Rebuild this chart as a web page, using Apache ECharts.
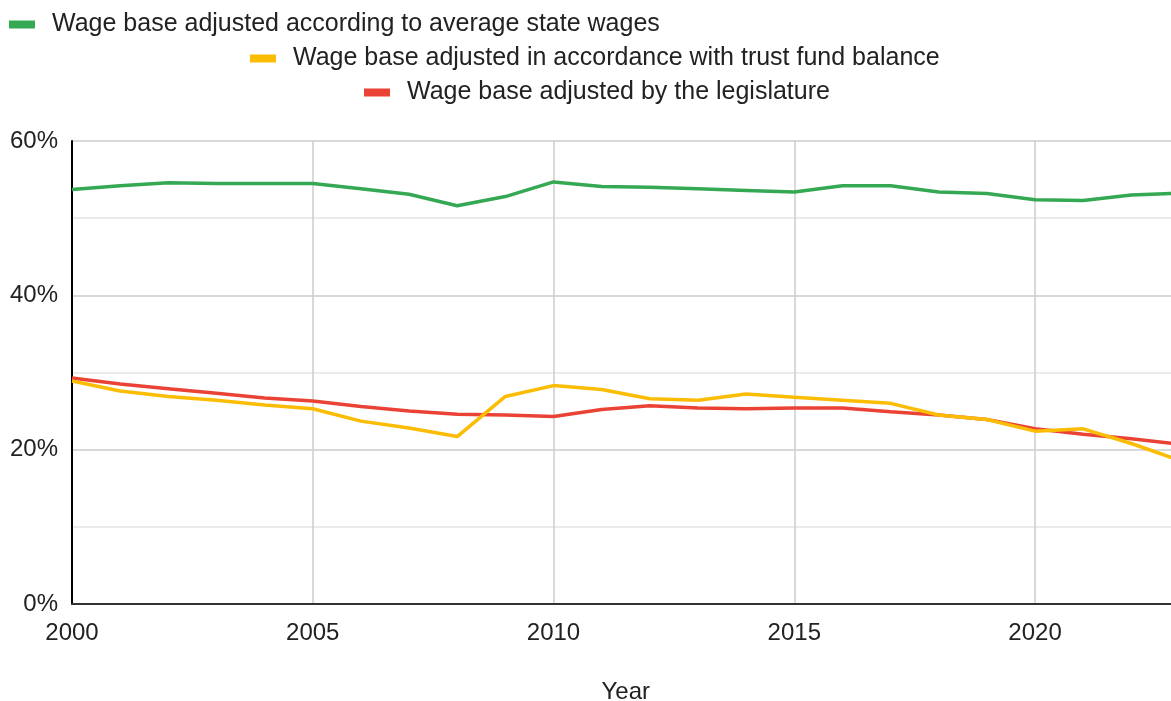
<!DOCTYPE html>
<html>
<head>
<meta charset="utf-8">
<script src="https://cdn.jsdelivr.net/npm/echarts@6/dist/echarts.min.js"></script>
<style>
  html, body { margin: 0; padding: 0; background: #fff; }
  #chart { width: 1171px; height: 701px; }
</style>
</head>
<body>
<div id="chart"></div>
<script>
// Share of taxable wages by how the wage base is set, 2000–2023 (percent)
const years = [2000, 2001, 2002, 2003, 2004, 2005, 2006, 2007, 2008, 2009, 2010, 2011,
               2012, 2013, 2014, 2015, 2016, 2017, 2018, 2019, 2020, 2021, 2022, 2023];

const stateWages = [53.7, 54.2, 54.6, 54.5, 54.5, 54.5, 53.8, 53.1, 51.6, 52.8, 54.7, 54.1,
                    54.0, 53.8, 53.6, 53.4, 54.2, 54.2, 53.4, 53.2, 52.4, 52.3, 53.0, 53.25];

const trustFund = [28.9, 27.6, 26.9, 26.4, 25.8, 25.3, 23.7, 22.8, 21.7, 26.9, 28.3, 27.8,
                   26.6, 26.4, 27.2, 26.8, 26.4, 26.0, 24.5, 23.9, 22.4, 22.7, 20.8, 18.6];

const legislature = [29.3, 28.5, 27.9, 27.3, 26.7, 26.3, 25.6, 25.0, 24.6, 24.5, 24.3, 25.2,
                     25.7, 25.4, 25.3, 25.4, 25.4, 24.9, 24.5, 23.9, 22.7, 22.0, 21.4, 20.7];

const seriesNames = [
  'Wage base adjusted according to average state wages',
  'Wage base adjusted in accordance with trust fund balance',
  'Wage base adjusted by the legislature'
];
const seriesColors = ['#34a853', '#fbbc04', '#ea4335'];
const seriesValues = [stateWages, trustFund, legislature];

const FONT = '"Liberation Sans", Arial, sans-serif';

const pairs = vals => years.map((y, i) => [y, vals[i]]);

// One legend row per series, staggered as in the layout
const legendPos = [
  { left: 9, top: 12 },
  { left: 250, top: 46 },
  { left: 364, top: 80 }
];

const chart = echarts.init(document.getElementById('chart'), null, { renderer: 'canvas' });

chart.setOption({
  backgroundColor: '#fff',
  animation: false,
  legend: seriesNames.map((name, i) => ({
    data: [name],
    left: legendPos[i].left,
    top: legendPos[i].top,
    padding: 0,
    icon: 'rect',
    itemWidth: 26,
    itemHeight: 8,
    textStyle: { fontFamily: FONT, fontSize: 25, color: '#222', padding: [0, 0, 0, 12] }
  })),
  grid: {
    left: 72, right: -8.5, top: 141, bottom: 97,
    containLabel: false,
    outerBoundsMode: 'none'
  },
  xAxis: {
    type: 'value',
    min: 2000,
    max: 2023,
    interval: 5,
    name: 'Year',
    nameLocation: 'middle',
    nameGap: 76,
    nameTextStyle: { fontFamily: FONT, fontSize: 24, color: '#222' },
    axisLine: { show: true, onZero: false, lineStyle: { color: '#333', width: 2 } },
    axisTick: { show: false },
    axisLabel: {
      fontFamily: FONT, fontSize: 24, color: '#222', margin: 17,
      showMaxLabel: false,
      formatter: v => String(v)
    },
    splitLine: { show: true, lineStyle: { color: '#cccccc', width: 1.5 } }
  },
  yAxis: {
    type: 'value',
    min: 0,
    max: 60,
    interval: 20,
    axisLine: { show: true, lineStyle: { color: '#000', width: 2 } },
    axisTick: { show: false },
    axisLabel: {
      fontFamily: FONT, fontSize: 24, color: '#222', margin: 14,
      formatter: '{value}%'
    },
    splitLine: { show: true, lineStyle: { color: '#cccccc', width: 1.5 } },
    minorTick: { show: false, splitNumber: 2 },
    minorSplitLine: { show: true, lineStyle: { color: '#e5e5e5', width: 1.5 } }
  },
  series: seriesNames.map((name, i) => ({
    name,
    type: 'line',
    data: pairs(seriesValues[i]),
    showSymbol: false,
    smooth: false,
    color: seriesColors[i],
    lineStyle: { width: 3.5, color: seriesColors[i] },
    z: 3 + (2 - i)
  }))
});
</script>
</body>
</html>
